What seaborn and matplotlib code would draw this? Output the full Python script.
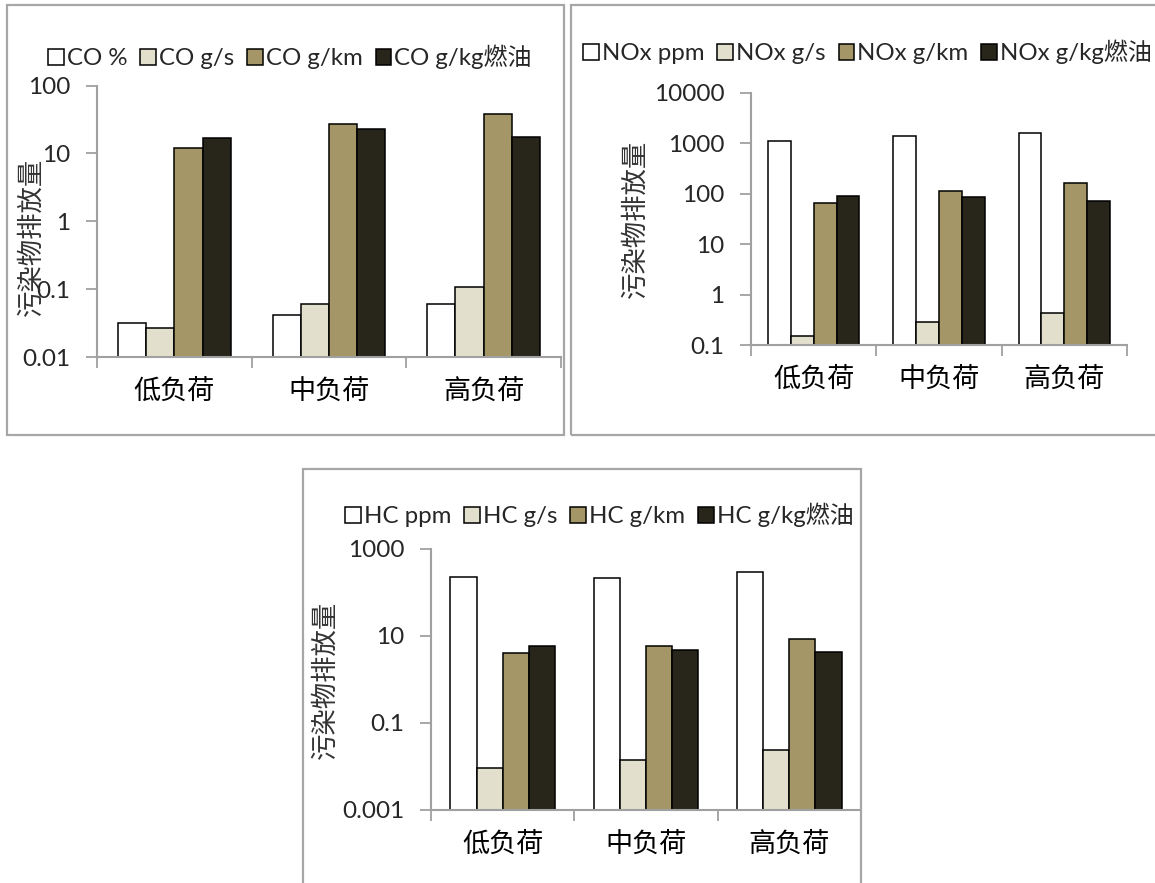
import matplotlib
matplotlib.use("Agg")
import matplotlib.pyplot as plt
import seaborn as sns
import pandas as pd
from matplotlib.patches import Patch, Rectangle

# ---------------- data ----------------
categories = ['低负荷', '中负荷', '高负荷']

co_labels = ['CO %', 'CO g/s', 'CO g/km', 'CO g/kg燃油']
co_pct = [0.032, 0.042, 0.061]
co_gs = [0.027, 0.061, 0.107]
co_gkm = [12.0, 27.2, 38.2]
co_gkg = [16.8, 22.8, 17.4]
co_ticks = [0.01, 0.1, 1, 10, 100]
co_ticklabels = ['0.01', '0.1', '1', '10', '100']

nox_labels = ['NOx ppm', 'NOx g/s', 'NOx g/km', 'NOx g/kg燃油']
nox_ppm = [1080, 1375, 1575]
nox_gs = [0.15, 0.29, 0.43]
nox_gkm = [66, 115, 160]
nox_gkg = [90, 86, 73]
nox_ticks = [0.1, 1, 10, 100, 1000, 10000]
nox_ticklabels = ['0.1', '1', '10', '100', '1000', '10000']

hc_labels = ['HC ppm', 'HC g/s', 'HC g/km', 'HC g/kg燃油']
hc_ppm = [220, 216, 291]
hc_gs = [0.0094, 0.0143, 0.0239]
hc_gkm = [4.0, 5.9, 8.4]
hc_gkg = [5.7, 4.7, 4.2]
hc_ticks = [0.001, 0.1, 10, 1000]
hc_ticklabels = ['0.001', '0.1', '10', '1000']

ylabel = '污染物排放量'
colors = ['#ffffff', '#e2dfcc', '#a49666', '#28251a']

# ---------------- style ----------------
sns.set_theme(style='white')
plt.rcParams['font.family'] = ['Lato', 'Noto Sans CJK SC', 'DejaVu Sans']
CJK = ['Noto Sans CJK SC', 'DejaVu Sans']
AX_GREY = '#a0a0a0'

W, H = 1155, 883
fig = plt.figure(figsize=(W / 100, H / 100), dpi=100)


def fr(x0, y0, x1, y1):
    """pixel box (top-left origin) -> figure fraction rect"""
    return [x0 / W, 1 - y1 / H, (x1 - x0) / W, (y1 - y0) / H]


def panel(rect, labels, series, ticks, ticklabels, ylim, legend_xy, ylabel_xy, frame):
    ax = fig.add_axes(fr(*rect))
    rows = []
    for lab, vals in zip(labels, series):
        for c, v in zip(categories, vals):
            rows.append({'load': c, 'series': lab, 'value': v})
    df = pd.DataFrame(rows)
    ax.set_yscale('log')
    sns.barplot(data=df, x='load', y='value', hue='series', hue_order=labels,
                order=categories, palette=colors, edgecolor='black', linewidth=1.1,
                width=0.73, gap=0, saturation=1, legend=False, ax=ax, err_kws={'linewidth': 0})
    ax.set_ylim(*ylim)
    ax.set_xlim(-0.5, 2.5)
    ax.set_yticks(ticks)
    ax.set_yticklabels(ticklabels, fontsize=17.5)
    ax.yaxis.set_minor_locator(matplotlib.ticker.NullLocator())
    ax.set_xticks(range(len(categories)))
    ax.set_xticklabels(categories, fontsize=19.5, family=CJK)
    ax.set_xticks([-0.5, 0.5, 1.5, 2.5], minor=True)
    ax.tick_params(axis='x', which='major', length=0, pad=15, colors='black')
    ax.tick_params(axis='x', which='minor', length=8, width=1.3, color=AX_GREY, direction='out', bottom=True)
    ax.tick_params(axis='y', which='major', length=8, width=1.3, color=AX_GREY, direction='out', left=True, pad=11)
    for s in ['top', 'right']:
        ax.spines[s].set_visible(False)
    for s in ['left', 'bottom']:
        ax.spines[s].set_color(AX_GREY)
        ax.spines[s].set_linewidth(1.5)
    ax.set_xlabel('')
    ax.set_ylabel(ylabel, fontsize=19, family=CJK, fontweight='light', color='#333333')
    ax.yaxis.set_label_coords(*ylabel_xy)
    ax.patch.set_alpha(0)

    handles = [Patch(facecolor=c, edgecolor='black', linewidth=1.1) for c in colors]
    fig.legend(handles, labels, loc='center left',
               bbox_to_anchor=(legend_xy[0] / W, 1 - legend_xy[1] / H),
               ncol=4, frameon=False, handlelength=0.65, handleheight=0.65,
               handletextpad=0.12, columnspacing=0.55, borderaxespad=0, borderpad=0,
               prop={'family': ['Lato', 'Noto Sans CJK SC'], 'size': 17.3})

    x0, y0, x1, y1 = frame
    fig.add_artist(Rectangle((x0 / W, 1 - y1 / H), (x1 - x0) / W, (y1 - y0) / H,
                             transform=fig.transFigure, fill=False,
                             edgecolor='#a6a6a6', linewidth=1.6))
    return ax


panel((97, 85.5, 561, 357.3), co_labels, [co_pct, co_gs, co_gkm, co_gkg],
      co_ticks, co_ticklabels, (0.01, 100), (48, 57), (-0.112, 0.443), (7, 5, 564, 435))

panel((751, 92.7, 1127, 345), nox_labels, [nox_ppm, nox_gs, nox_gkm, nox_gkg],
      nox_ticks, nox_ticklabels, (0.1, 10000), (583, 52), (-0.272, 0.499), (571, 5, 1165, 435))

panel((431, 548.7, 861, 810), hc_labels, [hc_ppm, hc_gs, hc_gkm, hc_gkg],
      hc_ticks, hc_ticklabels, (0.001, 1000), (345, 515), (-0.214, 0.497), (303, 469, 861, 893))

fig.savefig('out.png', dpi=100)
